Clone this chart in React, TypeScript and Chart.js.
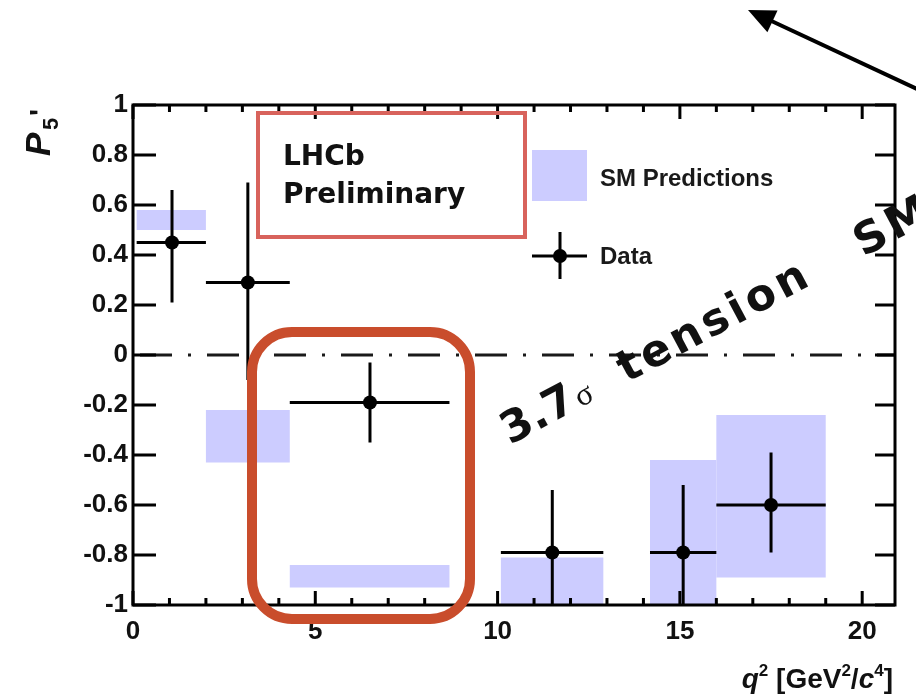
import React, { useEffect, useRef } from 'react';
import { Chart, registerables } from 'chart.js';

Chart.register(...registerables);

// q^2 bins
const binLow = [0.1, 2.0, 4.3, 10.09, 14.18, 16.0];
const binHigh = [2.0, 4.3, 8.68, 12.9, 16.0, 19.0];
// measured P5'
const dataX = [1.07, 3.15, 6.5, 11.5, 15.09, 17.5];
const dataY = [0.45, 0.29, -0.19, -0.79, -0.79, -0.6];
const errUp = [0.21, 0.4, 0.16, 0.25, 0.27, 0.21];
const errDown = [0.24, 0.39, 0.16, 0.22, 0.22, 0.19];
// SM prediction bands
const smLow = [0.5, -0.43, -0.93, -1.05, -1.05, -0.89];
const smHigh = [0.58, -0.22, -0.84, -0.81, -0.42, -0.24];
// axis ticks
const xTicks = [0, 5, 10, 15, 20];
const xMinorTicks = [1, 2, 3, 4, 6, 7, 8, 9, 11, 12, 13, 14, 16, 17, 18, 19];
const yTicks = [-1, -0.8, -0.6, -0.4, -0.2, 0, 0.2, 0.4, 0.6, 0.8, 1];

const SANS = '"Liberation Sans", Arial, Helvetica, sans-serif';
const HAND = '"DejaVu Sans", sans-serif';
const BAND = '#ccccff';

function roundRectPath(ctx: CanvasRenderingContext2D, x0: number, y0: number, x1: number, y1: number, r: number) {
  ctx.beginPath();
  ctx.moveTo(x0 + r, y0);
  ctx.arcTo(x1, y0, x1, y1, r);
  ctx.arcTo(x1, y1, x0, y1, r);
  ctx.arcTo(x0, y1, x0, y0, r);
  ctx.arcTo(x0, y0, x1, y0, r);
  ctx.closePath();
}

const overlay = {
  id: 'overlay',
  beforeDatasetsDraw(chart: any) {
    const { ctx, chartArea: a, scales } = chart;
    const x = scales.x, y = scales.y;
    ctx.save();
    ctx.beginPath();
    ctx.rect(a.left, a.top, a.right - a.left, a.bottom - a.top);
    ctx.clip();
    // SM bands
    ctx.fillStyle = BAND;
    for (let i = 0; i < binLow.length; i++) {
      const x0 = x.getPixelForValue(binLow[i]);
      const x1 = x.getPixelForValue(binHigh[i]);
      const y0 = y.getPixelForValue(smHigh[i]);
      const y1 = y.getPixelForValue(smLow[i]);
      ctx.fillRect(x0, y0, x1 - x0, y1 - y0);
    }
    // zero line
    const y0p = y.getPixelForValue(0);
    ctx.strokeStyle = '#1a1a1a';
    ctx.lineWidth = 3;
    ctx.setLineDash([32, 16, 3, 16]);
    ctx.lineDashOffset = 60;
    ctx.beginPath();
    ctx.moveTo(a.left, y0p);
    ctx.lineTo(a.right, y0p);
    ctx.stroke();
    ctx.setLineDash([]);
    // error bars
    ctx.strokeStyle = '#000';
    ctx.lineWidth = 3;
    ctx.beginPath();
    for (let i = 0; i < dataX.length; i++) {
      const px = x.getPixelForValue(dataX[i]);
      const py = y.getPixelForValue(dataY[i]);
      ctx.moveTo(x.getPixelForValue(binLow[i]), py);
      ctx.lineTo(x.getPixelForValue(binHigh[i]), py);
      ctx.moveTo(px, y.getPixelForValue(dataY[i] + errUp[i]));
      ctx.lineTo(px, y.getPixelForValue(dataY[i] - errDown[i]));
    }
    ctx.stroke();
    ctx.restore();
  },
  afterDatasetsDraw(chart: any) {
    const { ctx, chartArea: a, scales } = chart;
    const x = scales.x, y = scales.y;
    const L = a.left, R = a.right, T = a.top, B = a.bottom;
    ctx.save();
    ctx.strokeStyle = '#000';
    ctx.lineWidth = 3;
    ctx.beginPath();
    for (const v of yTicks) {
      const py = y.getPixelForValue(v);
      ctx.moveTo(L, py); ctx.lineTo(L + 23, py);
      ctx.moveTo(R, py); ctx.lineTo(R - 20, py);
    }
    for (const v of xTicks) {
      const px = x.getPixelForValue(v);
      ctx.moveTo(px, B); ctx.lineTo(px, B - 14);
      ctx.moveTo(px, T); ctx.lineTo(px, T + 14);
    }
    for (const v of xMinorTicks) {
      const px = x.getPixelForValue(v);
      ctx.moveTo(px, B); ctx.lineTo(px, B - 7);
      ctx.moveTo(px, T); ctx.lineTo(px, T + 7);
    }
    ctx.stroke();
    ctx.lineJoin = 'miter';
    ctx.strokeRect(L, T, R - L, B - T);
    ctx.restore();
  },
  afterDraw(chart: any) {
    const { ctx } = chart;
    ctx.save();

    // Legend
    ctx.fillStyle = BAND;
    ctx.fillRect(532, 150, 55, 51);
    ctx.strokeStyle = '#000';
    ctx.lineWidth = 3;
    ctx.beginPath();
    ctx.moveTo(532, 256); ctx.lineTo(587, 256);
    ctx.moveTo(560, 232); ctx.lineTo(560, 279);
    ctx.stroke();
    ctx.fillStyle = '#000';
    ctx.beginPath();
    ctx.arc(560, 256, 7, 0, Math.PI * 2);
    ctx.fill();
    ctx.fillStyle = '#1a1a1a';
    ctx.font = `bold 24px ${SANS}`;
    ctx.textBaseline = 'alphabetic';
    ctx.textAlign = 'left';
    ctx.fillText('SM Predictions', 600, 186);
    ctx.fillText('Data', 600, 264);

    // LHCb Preliminary box
    ctx.strokeStyle = '#d8635c';
    ctx.lineWidth = 4;
    ctx.strokeRect(258, 113, 267, 124);
    ctx.fillStyle = '#111';
    ctx.font = `bold 28px ${HAND}`;
    ctx.fillText('LHCb', 283, 165);
    ctx.fillText('Preliminary', 283, 203);

    // hand-drawn red rounded rectangle
    ctx.strokeStyle = '#c94d2c';
    ctx.lineWidth = 10;
    ctx.lineJoin = 'round';
    roundRectPath(ctx, 252, 332, 470, 619, 40);
    ctx.stroke();

    // handwritten annotation
    ctx.save();
    ctx.translate(510, 445);
    ctx.rotate((-28 * Math.PI) / 180);
    ctx.fillStyle = '#111';
    ctx.font = `bold 44px ${HAND}`;
    (ctx as any).letterSpacing = '0px';
    ctx.fillText('3.7', 0, 0);
    ctx.font = '32px "Liberation Serif", serif';
    ctx.fillText('σ', 80, 0);
    ctx.font = `bold 44px ${HAND}`;
    (ctx as any).letterSpacing = '4px';
    ctx.fillText('tension', 132, 0);
    ctx.fillText('SM', 400, 0);
    (ctx as any).letterSpacing = '0px';
    ctx.restore();

    // arrow
    ctx.strokeStyle = '#000';
    ctx.fillStyle = '#000';
    ctx.lineWidth = 4;
    const tipX = 748, tipY = 10;
    const dx = -167, dy = -78;
    const len = Math.hypot(dx, dy);
    const ux = dx / len, uy = dy / len;
    ctx.beginPath();
    ctx.moveTo(tipX - ux * 260, tipY - uy * 260);
    ctx.lineTo(tipX - ux * 20, tipY - uy * 20);
    ctx.stroke();
    const hl = 27, hw = 12;
    ctx.beginPath();
    ctx.moveTo(tipX, tipY);
    ctx.lineTo(tipX - ux * hl - uy * hw, tipY - uy * hl + ux * hw);
    ctx.lineTo(tipX - ux * hl + uy * hw, tipY - uy * hl - ux * hw);
    ctx.closePath();
    ctx.fill();

    // x axis title: q^2 [GeV^2/c^4]
    const big = `bold 28px ${SANS}`;
    const bigIt = `italic bold 28px ${SANS}`;
    const small = `bold 17px ${SANS}`;
    const pieces = [
      { t: 'q', f: bigIt, dy: 0 },
      { t: '2', f: small, dy: -12 },
      { t: ' [GeV', f: big, dy: 0 },
      { t: '2', f: small, dy: -12 },
      { t: '/', f: big, dy: 0 },
      { t: 'c', f: bigIt, dy: 0 },
      { t: '4', f: small, dy: -12 },
      { t: ']', f: big, dy: 0 },
    ];
    let total = 0;
    for (const p of pieces) { ctx.font = p.f; total += ctx.measureText(p.t).width; }
    let cx = 893 - total;
    ctx.fillStyle = '#111';
    for (const p of pieces) {
      ctx.font = p.f;
      ctx.fillText(p.t, cx, 688 + p.dy);
      cx += ctx.measureText(p.t).width;
    }

    // y axis title: P'_5
    ctx.save();
    ctx.translate(50, 156);
    ctx.rotate(-Math.PI / 2);
    ctx.font = `italic bold 35px ${SANS}`;
    ctx.fillText('P', 0, 0);
    ctx.font = `bold 22px ${SANS}`;
    ctx.fillText('5', 26, 8);
    ctx.font = `bold 30px ${SANS}`;
    ctx.fillText("'", 40, 0);
    ctx.restore();

    ctx.restore();
  },
};

export default function App() {
  const ref = useRef<HTMLCanvasElement>(null);
  useEffect(() => {
    document.body.style.margin = '0';
    const tickFont = { family: SANS, weight: 'bold' as const, size: 26 };
    const chart = new Chart(ref.current as HTMLCanvasElement, {
      type: 'scatter',
      data: {
        datasets: [
          {
            label: 'Data',
            data: dataX.map((v, i) => ({ x: v, y: dataY[i] })),
            pointRadius: 7,
            pointHoverRadius: 7,
            backgroundColor: '#000',
            borderColor: '#000',
            borderWidth: 0,
          },
        ],
      },
      options: {
        responsive: false,
        animation: false,
        events: [],
        layout: { padding: { left: 0, top: 105, right: 21, bottom: 0 } },
        plugins: { legend: { display: false }, tooltip: { enabled: false } },
        scales: {
          x: {
            type: 'linear',
            min: 0,
            max: 20.9,
            grid: { display: false, drawTicks: false },
            border: { display: false },
            ticks: {
              font: tickFont,
              color: '#111',
              padding: 11,
              maxRotation: 0,
              autoSkip: false,
              callback: (v: any) => String(Math.round(Number(v) * 10) / 10),
            },
            afterBuildTicks: (s: any) => {
              s.ticks = xTicks.map((v) => ({ value: v }));
            },
            afterFit: (s: any) => {
              s.height = 92;
            },
          },
          y: {
            type: 'linear',
            min: -1,
            max: 1,
            grid: { display: false, drawTicks: false },
            border: { display: false },
            ticks: {
              font: tickFont,
              color: '#111',
              padding: 5,
              autoSkip: false,
              callback: (v: any) => String(Math.round(Number(v) * 10) / 10),
            },
            afterBuildTicks: (s: any) => {
              s.ticks = yTicks.map((v) => ({ value: v }));
            },
            afterFit: (s: any) => {
              s.width = 133;
            },
          },
        },
      },
      plugins: [overlay],
    } as any);
    return () => chart.destroy();
  }, []);
  return (
    <div style={{ position: 'fixed', left: 0, top: 0, width: 916, height: 697, background: '#fff' }}>
      <canvas ref={ref} width={916} height={697} style={{ width: 916, height: 697, display: 'block' }} />
    </div>
  );
}
